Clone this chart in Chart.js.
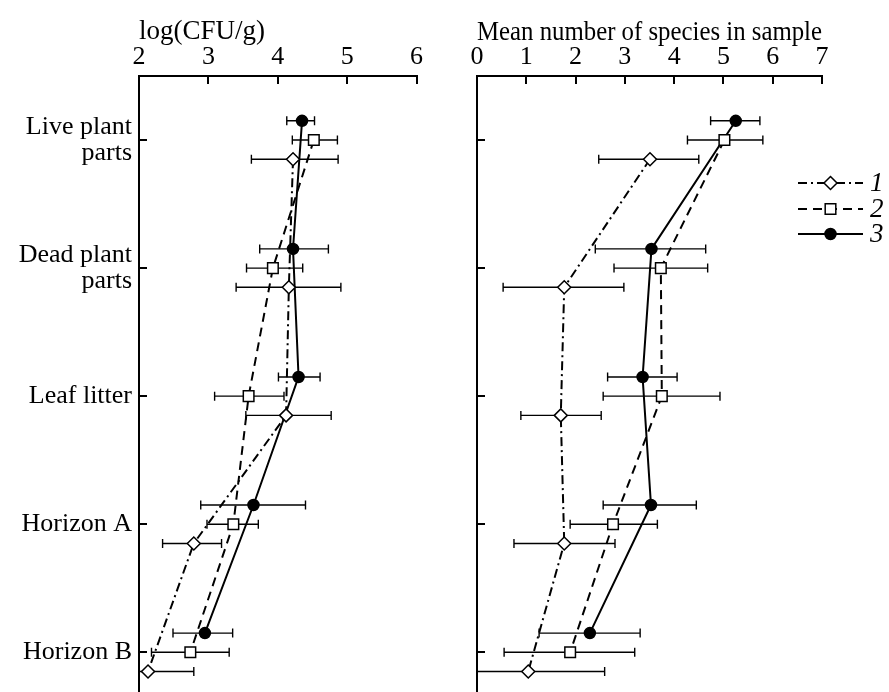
<!DOCTYPE html>
<html>
<head>
<meta charset="utf-8">
<script src="https://cdn.jsdelivr.net/npm/chart.js"></script>
<style>
  body { margin: 0; background: #fff; }
  #wrap { position: relative; width: 889px; height: 692px; }
  canvas { position: absolute; top: 0; }
  #cfuChart { left: 0; }
  #speciesChart { left: 445px; }
</style>
</head>
<body>
<div id="wrap">
  <canvas id="cfuChart" width="445" height="692"></canvas>
  <canvas id="speciesChart" width="444" height="692"></canvas>
</div>
<script>
// rows of the figure (top to bottom)
const categories = [['Live plant', 'parts'], ['Dead plant', 'parts'], 'Leaf litter', 'Horizon A', 'Horizon B'];
const seriesNames = ['1', '2', '3'];

// left panel: log(CFU/g)
const cfu1   = [4.22, 4.16, 4.12, 2.79, 2.13];
const cfu1Lo = [3.62, 3.40, 3.54, 2.34, 1.47];
const cfu1Hi = [4.87, 4.91, 4.77, 3.19, 2.79];
const cfu2   = [4.52, 3.93, 3.58, 3.36, 2.74];
const cfu2Lo = [4.21, 3.55, 3.09, 2.98, 2.18];
const cfu2Hi = [4.86, 4.36, 4.09, 3.72, 3.30];
const cfu3   = [4.35, 4.22, 4.30, 3.65, 2.95];
const cfu3Lo = [4.13, 3.74, 4.01, 2.89, 2.49];
const cfu3Hi = [4.53, 4.73, 4.61, 4.40, 3.35];

// right panel: mean number of species in sample
const sp1   = [3.51, 1.77, 1.70, 1.77, 1.04];
const sp1Lo = [2.47, 0.53, 0.89, 0.75, 0.00];
const sp1Hi = [4.50, 2.98, 2.52, 2.80, 2.59];
const sp2   = [5.02, 3.73, 3.75, 2.76, 1.89];
const sp2Lo = [4.27, 2.78, 2.56, 1.89, 0.55];
const sp2Hi = [5.80, 4.68, 4.93, 3.66, 3.20];
const sp3   = [5.25, 3.54, 3.36, 3.53, 2.29];
const sp3Lo = [4.74, 2.40, 2.65, 2.56, 1.26];
const sp3Hi = [5.74, 4.64, 4.06, 4.45, 3.31];

const FONT = 'Liberation Serif, Times New Roman, serif';

// each series sits a little above / below its row tick
const rowShift = [0.15, 0, -0.15];
const styles = [
  { dash: [9, 4, 2, 4], pointStyle: 'rectRot', radius: 6.5, fill: '#fff' },
  { dash: [9, 6], pointStyle: 'rect', radius: 7.5, fill: '#fff' },
  { dash: [], pointStyle: 'circle', radius: 5.5, fill: '#000' }
];

function makeDataset(k, vals, lo, hi) {
  const st = styles[k];
  return {
    label: seriesNames[k],
    data: vals.map((v, i) => ({ x: v, y: i + rowShift[k] })),
    errLo: lo,
    errHi: hi,
    showLine: true,
    borderColor: '#000',
    borderWidth: 2,
    borderDash: st.dash,
    pointStyle: st.pointStyle,
    pointRadius: st.radius,
    pointBackgroundColor: st.fill,
    pointBorderColor: '#000',
    pointBorderWidth: 1.5
  };
}

const errorBars = {
  id: 'errorBars',
  beforeDatasetsDraw(chart) {
    const ctx = chart.ctx, xs = chart.scales.x, a = chart.chartArea;
    ctx.save();
    ctx.beginPath();
    ctx.rect(a.left - 1, a.top, a.right - a.left + 2, a.bottom - a.top);
    ctx.clip();
    ctx.strokeStyle = '#000';
    ctx.lineWidth = 1.4;
    chart.data.datasets.forEach((ds, d) => {
      chart.getDatasetMeta(d).data.forEach((pt, i) => {
        const x1 = xs.getPixelForValue(ds.errLo[i]);
        const x2 = xs.getPixelForValue(ds.errHi[i]);
        const y = pt.y;
        ctx.beginPath();
        ctx.moveTo(x1, y); ctx.lineTo(x2, y);
        ctx.moveTo(x1, y - 4.5); ctx.lineTo(x1, y + 4.5);
        ctx.moveTo(x2, y - 4.5); ctx.lineTo(x2, y + 4.5);
        ctx.stroke();
      });
    });
    ctx.restore();
  }
};

function drawMarker(ctx, style, r, x, y, fill) {
  ctx.beginPath();
  if (style === 'circle') {
    ctx.arc(x, y, r, 0, Math.PI * 2);
  } else if (style === 'rect') {
    const s = r * Math.SQRT1_2;
    ctx.rect(x - s, y - s, 2 * s, 2 * s);
  } else {
    ctx.moveTo(x, y - r); ctx.lineTo(x + r, y); ctx.lineTo(x, y + r); ctx.lineTo(x - r, y); ctx.closePath();
  }
  ctx.fillStyle = fill;
  ctx.fill();
  ctx.lineWidth = 1.5;
  ctx.strokeStyle = '#000';
  ctx.stroke();
}

const lineLegend = {
  id: 'lineLegend',
  afterDraw(chart) {
    const ctx = chart.ctx;
    const x1 = 353, x2 = 418, ys = [183, 209, 234];
    ctx.save();
    chart.data.datasets.forEach((ds, d) => {
      const y = ys[d];
      ctx.beginPath();
      ctx.setLineDash(ds.borderDash);
      ctx.lineWidth = 2;
      ctx.strokeStyle = '#000';
      ctx.moveTo(x1, y); ctx.lineTo(x2, y);
      ctx.stroke();
      ctx.setLineDash([]);
      drawMarker(ctx, ds.pointStyle, ds.pointRadius, (x1 + x2) / 2, y, ds.pointBackgroundColor);
      ctx.fillStyle = '#000';
      ctx.font = 'italic 27px ' + FONT;
      ctx.textBaseline = 'middle';
      ctx.fillText(ds.label, 425, y + 1);
    });
    ctx.restore();
  }
};

function makeChart(id, datasets, xMin, xMax, title, titleSize, yWidth, showRowLabels, padRight, plugins) {
  return new Chart(document.getElementById(id), {
    type: 'scatter',
    data: { datasets: datasets },
    options: {
      responsive: false,
      animation: false,
      layout: { autoPadding: false, padding: { left: 0, right: padRight, top: 0, bottom: 0 } },
      plugins: { legend: { display: false }, tooltip: { enabled: false } },
      scales: {
        x: {
          type: 'linear',
          position: 'top',
          min: xMin,
          max: xMax,
          afterFit: s => { s.height = 76; s.paddingLeft = 0; s.paddingRight = 0; },
          border: { display: true, color: '#000', width: 2 },
          grid: { drawOnChartArea: false, drawTicks: true, tickLength: -8, color: '#000', lineWidth: 2 },
          ticks: { stepSize: 1, padding: 11, color: '#000', font: { family: FONT, size: 26 } },
          title: { display: true, text: title, align: 'start', color: '#000',
                   font: { family: FONT, size: titleSize }, padding: { top: 16, bottom: 0 } }
        },
        y: {
          type: 'linear',
          position: 'left',
          reverse: true,
          min: -0.5,
          max: 4.31,
          afterBuildTicks: s => { s.ticks = categories.map((c, i) => ({ value: i })); },
          afterFit: s => { s.width = yWidth; s.paddingTop = 0; s.paddingBottom = 0; },
          border: { display: true, color: '#000', width: 2 },
          grid: { drawOnChartArea: false, drawTicks: true, tickLength: -8, color: '#000', lineWidth: 2 },
          ticks: {
            display: showRowLabels,
            autoSkip: false,
            padding: 15,
            color: '#000',
            font: { family: FONT, size: 26, lineHeight: 1.0 },
            callback: v => categories[v]
          }
        }
      }
    },
    plugins: plugins
  });
}

makeChart('cfuChart', [
  makeDataset(0, cfu1, cfu1Lo, cfu1Hi),
  makeDataset(1, cfu2, cfu2Lo, cfu2Hi),
  makeDataset(2, cfu3, cfu3Lo, cfu3Hi)
], 2, 6, 'log(CFU/g)', 27, 139, true, 28.5, [errorBars]);

makeChart('speciesChart', [
  makeDataset(0, sp1, sp1Lo, sp1Hi),
  makeDataset(1, sp2, sp2Lo, sp2Hi),
  makeDataset(2, sp3, sp3Lo, sp3Hi)
], 0, 7, 'Mean number of species in sample', 28, 32, false, 67, [errorBars, lineLegend]);
</script>
</body>
</html>
